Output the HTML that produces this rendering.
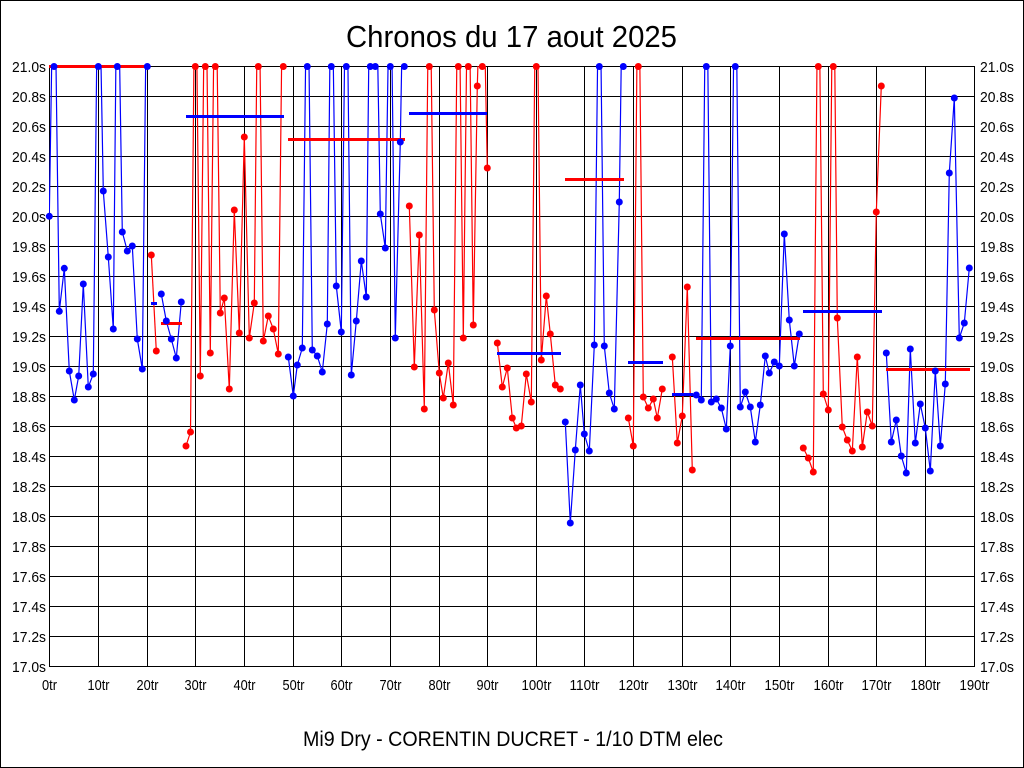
<!DOCTYPE html>
<html><head><meta charset="utf-8"><style>html,body{margin:0;padding:0;background:#fff;}svg{display:block;}</style></head>
<body>
<svg width="1024" height="768" viewBox="0 0 1024 768" xmlns="http://www.w3.org/2000/svg" font-family="'Liberation Sans', Arial, sans-serif">
<rect x="0" y="0" width="1024" height="768" fill="#fff"/>
<rect x="0.5" y="0.5" width="1023" height="767" fill="none" stroke="#000" stroke-width="1"/>
<defs><clipPath id="pc"><rect x="49" y="66" width="926" height="601"/></clipPath></defs>
<g stroke="#000" stroke-width="1" shape-rendering="crispEdges">
<path d="M49.5,66V666M98.5,66V666M147.5,66V666M195.5,66V666M244.5,66V666M293.5,66V666M341.5,66V666M390.5,66V666M439.5,66V666M487.5,66V666M536.5,66V666M584.5,66V666M633.5,66V666M682.5,66V666M730.5,66V666M779.5,66V666M828.5,66V666M876.5,66V666M925.5,66V666M974.5,66V666"/>
<path d="M49,66.5H975M49,96.5H975M49,126.5H975M49,156.5H975M49,186.5H975M49,216.5H975M49,246.5H975M49,276.5H975M49,306.5H975M49,336.5H975M49,366.5H975M49,396.5H975M49,426.5H975M49,456.5H975M49,486.5H975M49,516.5H975M49,546.5H975M49,576.5H975M49,606.5H975M49,636.5H975M49,666.5H975"/>
</g>
<g font-size="15" fill="#000" text-anchor="end">
<text x="46" y="72" textLength="34" lengthAdjust="spacingAndGlyphs">21.0s</text>
<text x="46" y="102" textLength="34" lengthAdjust="spacingAndGlyphs">20.8s</text>
<text x="46" y="132" textLength="34" lengthAdjust="spacingAndGlyphs">20.6s</text>
<text x="46" y="162" textLength="34" lengthAdjust="spacingAndGlyphs">20.4s</text>
<text x="46" y="192" textLength="34" lengthAdjust="spacingAndGlyphs">20.2s</text>
<text x="46" y="222" textLength="34" lengthAdjust="spacingAndGlyphs">20.0s</text>
<text x="46" y="252" textLength="34" lengthAdjust="spacingAndGlyphs">19.8s</text>
<text x="46" y="282" textLength="34" lengthAdjust="spacingAndGlyphs">19.6s</text>
<text x="46" y="312" textLength="34" lengthAdjust="spacingAndGlyphs">19.4s</text>
<text x="46" y="342" textLength="34" lengthAdjust="spacingAndGlyphs">19.2s</text>
<text x="46" y="372" textLength="34" lengthAdjust="spacingAndGlyphs">19.0s</text>
<text x="46" y="402" textLength="34" lengthAdjust="spacingAndGlyphs">18.8s</text>
<text x="46" y="432" textLength="34" lengthAdjust="spacingAndGlyphs">18.6s</text>
<text x="46" y="462" textLength="34" lengthAdjust="spacingAndGlyphs">18.4s</text>
<text x="46" y="492" textLength="34" lengthAdjust="spacingAndGlyphs">18.2s</text>
<text x="46" y="522" textLength="34" lengthAdjust="spacingAndGlyphs">18.0s</text>
<text x="46" y="552" textLength="34" lengthAdjust="spacingAndGlyphs">17.8s</text>
<text x="46" y="582" textLength="34" lengthAdjust="spacingAndGlyphs">17.6s</text>
<text x="46" y="612" textLength="34" lengthAdjust="spacingAndGlyphs">17.4s</text>
<text x="46" y="642" textLength="34" lengthAdjust="spacingAndGlyphs">17.2s</text>
<text x="46" y="672" textLength="34" lengthAdjust="spacingAndGlyphs">17.0s</text>
</g>
<g font-size="15" fill="#000" text-anchor="start">
<text x="980" y="72" textLength="34" lengthAdjust="spacingAndGlyphs">21.0s</text>
<text x="980" y="102" textLength="34" lengthAdjust="spacingAndGlyphs">20.8s</text>
<text x="980" y="132" textLength="34" lengthAdjust="spacingAndGlyphs">20.6s</text>
<text x="980" y="162" textLength="34" lengthAdjust="spacingAndGlyphs">20.4s</text>
<text x="980" y="192" textLength="34" lengthAdjust="spacingAndGlyphs">20.2s</text>
<text x="980" y="222" textLength="34" lengthAdjust="spacingAndGlyphs">20.0s</text>
<text x="980" y="252" textLength="34" lengthAdjust="spacingAndGlyphs">19.8s</text>
<text x="980" y="282" textLength="34" lengthAdjust="spacingAndGlyphs">19.6s</text>
<text x="980" y="312" textLength="34" lengthAdjust="spacingAndGlyphs">19.4s</text>
<text x="980" y="342" textLength="34" lengthAdjust="spacingAndGlyphs">19.2s</text>
<text x="980" y="372" textLength="34" lengthAdjust="spacingAndGlyphs">19.0s</text>
<text x="980" y="402" textLength="34" lengthAdjust="spacingAndGlyphs">18.8s</text>
<text x="980" y="432" textLength="34" lengthAdjust="spacingAndGlyphs">18.6s</text>
<text x="980" y="462" textLength="34" lengthAdjust="spacingAndGlyphs">18.4s</text>
<text x="980" y="492" textLength="34" lengthAdjust="spacingAndGlyphs">18.2s</text>
<text x="980" y="522" textLength="34" lengthAdjust="spacingAndGlyphs">18.0s</text>
<text x="980" y="552" textLength="34" lengthAdjust="spacingAndGlyphs">17.8s</text>
<text x="980" y="582" textLength="34" lengthAdjust="spacingAndGlyphs">17.6s</text>
<text x="980" y="612" textLength="34" lengthAdjust="spacingAndGlyphs">17.4s</text>
<text x="980" y="642" textLength="34" lengthAdjust="spacingAndGlyphs">17.2s</text>
<text x="980" y="672" textLength="34" lengthAdjust="spacingAndGlyphs">17.0s</text>
</g>
<g font-size="15" fill="#000" text-anchor="middle">
<text x="49.5" y="690" textLength="15" lengthAdjust="spacingAndGlyphs">0tr</text>
<text x="98.5" y="690" textLength="22" lengthAdjust="spacingAndGlyphs">10tr</text>
<text x="147.5" y="690" textLength="22" lengthAdjust="spacingAndGlyphs">20tr</text>
<text x="195.5" y="690" textLength="22" lengthAdjust="spacingAndGlyphs">30tr</text>
<text x="244.5" y="690" textLength="22" lengthAdjust="spacingAndGlyphs">40tr</text>
<text x="293.5" y="690" textLength="22" lengthAdjust="spacingAndGlyphs">50tr</text>
<text x="341.5" y="690" textLength="22" lengthAdjust="spacingAndGlyphs">60tr</text>
<text x="390.5" y="690" textLength="22" lengthAdjust="spacingAndGlyphs">70tr</text>
<text x="439.5" y="690" textLength="22" lengthAdjust="spacingAndGlyphs">80tr</text>
<text x="487.5" y="690" textLength="22" lengthAdjust="spacingAndGlyphs">90tr</text>
<text x="536.5" y="690" textLength="30" lengthAdjust="spacingAndGlyphs">100tr</text>
<text x="584.5" y="690" textLength="30" lengthAdjust="spacingAndGlyphs">110tr</text>
<text x="633.5" y="690" textLength="30" lengthAdjust="spacingAndGlyphs">120tr</text>
<text x="682.5" y="690" textLength="30" lengthAdjust="spacingAndGlyphs">130tr</text>
<text x="730.5" y="690" textLength="30" lengthAdjust="spacingAndGlyphs">140tr</text>
<text x="779.5" y="690" textLength="30" lengthAdjust="spacingAndGlyphs">150tr</text>
<text x="828.5" y="690" textLength="30" lengthAdjust="spacingAndGlyphs">160tr</text>
<text x="876.5" y="690" textLength="30" lengthAdjust="spacingAndGlyphs">170tr</text>
<text x="925.5" y="690" textLength="30" lengthAdjust="spacingAndGlyphs">180tr</text>
<text x="974.5" y="690" textLength="30" lengthAdjust="spacingAndGlyphs">190tr</text>
</g>
<text x="511.5" y="47" font-size="31" text-anchor="middle" textLength="331" lengthAdjust="spacingAndGlyphs" fill="#000">Chronos du 17 aout 2025</text>
<text x="513" y="746" font-size="21" text-anchor="middle" textLength="420" lengthAdjust="spacingAndGlyphs" fill="#000">Mi9 Dry - CORENTIN DUCRET - 1/10 DTM elec</text>

<g clip-path="url(#pc)" fill="none" stroke-width="1.2" stroke-linejoin="round">
<path stroke="#0000ff" d="M49.3,216.3L54,-84L59.3,311.3L64.3,268.3L69.3,371L74.3,400L78.7,376L83.3,284L88.3,387L93.3,374L98.3,-84L103.3,191L108.3,257L113.3,329L117.3,-84L122.3,232L127.3,251L132.3,246L137.3,339L142.3,369L147.3,-84"/>
<path stroke="#ff0000" d="M151.3,255L156.3,351"/>
<path stroke="#0000ff" d="M161.3,294L166.3,321L171.3,339L176.3,358L181.3,302"/>
<path stroke="#ff0000" d="M186,446L190.5,432L195.3,-84L200.3,376L205.3,-84L210.3,353L215.3,-84L220.3,313L224.3,298L229.3,389L234.3,210L239.3,333L244.3,137L249.3,338L254.3,303L258.3,-84L263.3,341L268.3,316L273.3,329L278.3,354L283.3,-84"/>
<path stroke="#0000ff" d="M288.3,357L293.3,396L297.3,365L302.3,348L307.3,-84L312.3,350L317.3,356L322.3,372L327.3,324L331.3,-84L336.3,286L341.3,332L346.3,-84L351.3,375L356.3,321L361.3,261L366.3,297L370.3,-84L375.3,-84L380.3,214L385.3,248L390.3,-84L395.3,338L400.3,142L404.3,-84"/>
<path stroke="#ff0000" d="M409.3,206L414.3,367L419.3,235L424.3,409L429.3,-84L434.3,310L439.3,373L443.3,398L448.3,363L453.3,405L458.3,-84L463.3,338L468.3,-84L473.3,325L477.3,86L482.3,-84L487.3,168"/>
<path stroke="#ff0000" d="M497.3,343L502.3,387L507.3,368L512.3,418L516.3,428L521.3,426L526.3,374L531.3,402L536.3,-84L541.3,360L546.3,296L550.3,334L555.3,385L560.3,389"/>
<path stroke="#0000ff" d="M565.3,422L570.3,523L575.3,450L580.3,385L584.3,434L589.3,451L594.3,345L599.3,-84L604.3,346L609.3,393L614.3,409L619.3,202L623.3,-84"/>
<path stroke="#ff0000" d="M628.3,418L633.3,446L638.3,-84L643.3,397L648.3,408L653.3,399L657.3,418L662.3,389"/>
<path stroke="#ff0000" d="M672.3,357L677.3,443L682.3,416L687.3,287L692.3,470"/>
<path stroke="#0000ff" d="M696.3,395L701.3,400L706.3,-84L711.3,402L716.3,399L721.3,408L726.3,429L730.3,346L735.3,-84L740.3,407L745.3,392L750.3,407L755.3,442L760.3,405L765.3,356L769.3,373L774.3,362L779.3,366L784.3,234L789.3,320L794.3,366L799.3,334"/>
<path stroke="#ff0000" d="M803.3,448L808.3,458L813.3,472L818.3,-84L823.3,394L828.3,410L833.3,-84L837.3,318L842.3,427L847.3,440L852.3,451L857.3,357L862.3,447L867.3,412L872.3,426L876.3,212L881.3,86"/>
<path stroke="#0000ff" d="M886.3,353L891.3,442L896.3,420L901.3,456L906.3,473L910.3,349L915.3,443L920.3,404L925.3,428L930.3,471L935.3,371L940.3,446L945.3,384L949.3,173L954.3,98L959.3,338L964.3,323L969.3,268"/>
</g>

<g stroke-width="3" fill="none">
<path stroke="#ff0000" d="M49,66.5H147.5"/>
<path stroke="#0000ff" d="M151,303.5H157"/>
<path stroke="#ff0000" d="M161,323.5H182"/>
<path stroke="#0000ff" d="M186,116.5H284"/>
<path stroke="#ff0000" d="M288,139.5H405"/>
<path stroke="#0000ff" d="M409,113.5H487"/>
<path stroke="#0000ff" d="M497,353.5H561"/>
<path stroke="#ff0000" d="M565,179.5H624"/>
<path stroke="#0000ff" d="M628,362.5H663"/>
<path stroke="#0000ff" d="M672,394.5H693"/>
<path stroke="#ff0000" d="M696,338.5H800"/>
<path stroke="#0000ff" d="M803,311.5H882"/>
<path stroke="#ff0000" d="M886,369.5H970"/>
</g>

<g fill="#0000ff">
<circle cx="49.3" cy="216.3" r="3.5"/><circle cx="54" cy="66.5" r="3.5"/><circle cx="59.3" cy="311.3" r="3.5"/><circle cx="64.3" cy="268.3" r="3.5"/><circle cx="69.3" cy="371" r="3.5"/><circle cx="74.3" cy="400" r="3.5"/><circle cx="78.7" cy="376" r="3.5"/><circle cx="83.3" cy="284" r="3.5"/><circle cx="88.3" cy="387" r="3.5"/><circle cx="93.3" cy="374" r="3.5"/><circle cx="98.3" cy="66.5" r="3.5"/><circle cx="103.3" cy="191" r="3.5"/><circle cx="108.3" cy="257" r="3.5"/><circle cx="113.3" cy="329" r="3.5"/><circle cx="117.3" cy="66.5" r="3.5"/><circle cx="122.3" cy="232" r="3.5"/><circle cx="127.3" cy="251" r="3.5"/><circle cx="132.3" cy="246" r="3.5"/><circle cx="137.3" cy="339" r="3.5"/><circle cx="142.3" cy="369" r="3.5"/><circle cx="147.3" cy="66.5" r="3.5"/>
<circle cx="161.3" cy="294" r="3.5"/><circle cx="166.3" cy="321" r="3.5"/><circle cx="171.3" cy="339" r="3.5"/><circle cx="176.3" cy="358" r="3.5"/><circle cx="181.3" cy="302" r="3.5"/>
<circle cx="288.3" cy="357" r="3.5"/><circle cx="293.3" cy="396" r="3.5"/><circle cx="297.3" cy="365" r="3.5"/><circle cx="302.3" cy="348" r="3.5"/><circle cx="307.3" cy="66.5" r="3.5"/><circle cx="312.3" cy="350" r="3.5"/><circle cx="317.3" cy="356" r="3.5"/><circle cx="322.3" cy="372" r="3.5"/><circle cx="327.3" cy="324" r="3.5"/><circle cx="331.3" cy="66.5" r="3.5"/><circle cx="336.3" cy="286" r="3.5"/><circle cx="341.3" cy="332" r="3.5"/><circle cx="346.3" cy="66.5" r="3.5"/><circle cx="351.3" cy="375" r="3.5"/><circle cx="356.3" cy="321" r="3.5"/><circle cx="361.3" cy="261" r="3.5"/><circle cx="366.3" cy="297" r="3.5"/><circle cx="370.3" cy="66.5" r="3.5"/><circle cx="375.3" cy="66.5" r="3.5"/><circle cx="380.3" cy="214" r="3.5"/><circle cx="385.3" cy="248" r="3.5"/><circle cx="390.3" cy="66.5" r="3.5"/><circle cx="395.3" cy="338" r="3.5"/><circle cx="400.3" cy="142" r="3.5"/><circle cx="404.3" cy="66.5" r="3.5"/>
<circle cx="565.3" cy="422" r="3.5"/><circle cx="570.3" cy="523" r="3.5"/><circle cx="575.3" cy="450" r="3.5"/><circle cx="580.3" cy="385" r="3.5"/><circle cx="584.3" cy="434" r="3.5"/><circle cx="589.3" cy="451" r="3.5"/><circle cx="594.3" cy="345" r="3.5"/><circle cx="599.3" cy="66.5" r="3.5"/><circle cx="604.3" cy="346" r="3.5"/><circle cx="609.3" cy="393" r="3.5"/><circle cx="614.3" cy="409" r="3.5"/><circle cx="619.3" cy="202" r="3.5"/><circle cx="623.3" cy="66.5" r="3.5"/>
<circle cx="696.3" cy="395" r="3.5"/><circle cx="701.3" cy="400" r="3.5"/><circle cx="706.3" cy="66.5" r="3.5"/><circle cx="711.3" cy="402" r="3.5"/><circle cx="716.3" cy="399" r="3.5"/><circle cx="721.3" cy="408" r="3.5"/><circle cx="726.3" cy="429" r="3.5"/><circle cx="730.3" cy="346" r="3.5"/><circle cx="735.3" cy="66.5" r="3.5"/><circle cx="740.3" cy="407" r="3.5"/><circle cx="745.3" cy="392" r="3.5"/><circle cx="750.3" cy="407" r="3.5"/><circle cx="755.3" cy="442" r="3.5"/><circle cx="760.3" cy="405" r="3.5"/><circle cx="765.3" cy="356" r="3.5"/><circle cx="769.3" cy="373" r="3.5"/><circle cx="774.3" cy="362" r="3.5"/><circle cx="779.3" cy="366" r="3.5"/><circle cx="784.3" cy="234" r="3.5"/><circle cx="789.3" cy="320" r="3.5"/><circle cx="794.3" cy="366" r="3.5"/><circle cx="799.3" cy="334" r="3.5"/>
<circle cx="886.3" cy="353" r="3.5"/><circle cx="891.3" cy="442" r="3.5"/><circle cx="896.3" cy="420" r="3.5"/><circle cx="901.3" cy="456" r="3.5"/><circle cx="906.3" cy="473" r="3.5"/><circle cx="910.3" cy="349" r="3.5"/><circle cx="915.3" cy="443" r="3.5"/><circle cx="920.3" cy="404" r="3.5"/><circle cx="925.3" cy="428" r="3.5"/><circle cx="930.3" cy="471" r="3.5"/><circle cx="935.3" cy="371" r="3.5"/><circle cx="940.3" cy="446" r="3.5"/><circle cx="945.3" cy="384" r="3.5"/><circle cx="949.3" cy="173" r="3.5"/><circle cx="954.3" cy="98" r="3.5"/><circle cx="959.3" cy="338" r="3.5"/><circle cx="964.3" cy="323" r="3.5"/><circle cx="969.3" cy="268" r="3.5"/>
</g>
<g fill="#ff0000">
<circle cx="151.3" cy="255" r="3.5"/><circle cx="156.3" cy="351" r="3.5"/>
<circle cx="186" cy="446" r="3.5"/><circle cx="190.5" cy="432" r="3.5"/><circle cx="195.3" cy="66.5" r="3.5"/><circle cx="200.3" cy="376" r="3.5"/><circle cx="205.3" cy="66.5" r="3.5"/><circle cx="210.3" cy="353" r="3.5"/><circle cx="215.3" cy="66.5" r="3.5"/><circle cx="220.3" cy="313" r="3.5"/><circle cx="224.3" cy="298" r="3.5"/><circle cx="229.3" cy="389" r="3.5"/><circle cx="234.3" cy="210" r="3.5"/><circle cx="239.3" cy="333" r="3.5"/><circle cx="244.3" cy="137" r="3.5"/><circle cx="249.3" cy="338" r="3.5"/><circle cx="254.3" cy="303" r="3.5"/><circle cx="258.3" cy="66.5" r="3.5"/><circle cx="263.3" cy="341" r="3.5"/><circle cx="268.3" cy="316" r="3.5"/><circle cx="273.3" cy="329" r="3.5"/><circle cx="278.3" cy="354" r="3.5"/><circle cx="283.3" cy="66.5" r="3.5"/>
<circle cx="409.3" cy="206" r="3.5"/><circle cx="414.3" cy="367" r="3.5"/><circle cx="419.3" cy="235" r="3.5"/><circle cx="424.3" cy="409" r="3.5"/><circle cx="429.3" cy="66.5" r="3.5"/><circle cx="434.3" cy="310" r="3.5"/><circle cx="439.3" cy="373" r="3.5"/><circle cx="443.3" cy="398" r="3.5"/><circle cx="448.3" cy="363" r="3.5"/><circle cx="453.3" cy="405" r="3.5"/><circle cx="458.3" cy="66.5" r="3.5"/><circle cx="463.3" cy="338" r="3.5"/><circle cx="468.3" cy="66.5" r="3.5"/><circle cx="473.3" cy="325" r="3.5"/><circle cx="477.3" cy="86" r="3.5"/><circle cx="482.3" cy="66.5" r="3.5"/><circle cx="487.3" cy="168" r="3.5"/>
<circle cx="497.3" cy="343" r="3.5"/><circle cx="502.3" cy="387" r="3.5"/><circle cx="507.3" cy="368" r="3.5"/><circle cx="512.3" cy="418" r="3.5"/><circle cx="516.3" cy="428" r="3.5"/><circle cx="521.3" cy="426" r="3.5"/><circle cx="526.3" cy="374" r="3.5"/><circle cx="531.3" cy="402" r="3.5"/><circle cx="536.3" cy="66.5" r="3.5"/><circle cx="541.3" cy="360" r="3.5"/><circle cx="546.3" cy="296" r="3.5"/><circle cx="550.3" cy="334" r="3.5"/><circle cx="555.3" cy="385" r="3.5"/><circle cx="560.3" cy="389" r="3.5"/>
<circle cx="628.3" cy="418" r="3.5"/><circle cx="633.3" cy="446" r="3.5"/><circle cx="638.3" cy="66.5" r="3.5"/><circle cx="643.3" cy="397" r="3.5"/><circle cx="648.3" cy="408" r="3.5"/><circle cx="653.3" cy="399" r="3.5"/><circle cx="657.3" cy="418" r="3.5"/><circle cx="662.3" cy="389" r="3.5"/>
<circle cx="672.3" cy="357" r="3.5"/><circle cx="677.3" cy="443" r="3.5"/><circle cx="682.3" cy="416" r="3.5"/><circle cx="687.3" cy="287" r="3.5"/><circle cx="692.3" cy="470" r="3.5"/>
<circle cx="803.3" cy="448" r="3.5"/><circle cx="808.3" cy="458" r="3.5"/><circle cx="813.3" cy="472" r="3.5"/><circle cx="818.3" cy="66.5" r="3.5"/><circle cx="823.3" cy="394" r="3.5"/><circle cx="828.3" cy="410" r="3.5"/><circle cx="833.3" cy="66.5" r="3.5"/><circle cx="837.3" cy="318" r="3.5"/><circle cx="842.3" cy="427" r="3.5"/><circle cx="847.3" cy="440" r="3.5"/><circle cx="852.3" cy="451" r="3.5"/><circle cx="857.3" cy="357" r="3.5"/><circle cx="862.3" cy="447" r="3.5"/><circle cx="867.3" cy="412" r="3.5"/><circle cx="872.3" cy="426" r="3.5"/><circle cx="876.3" cy="212" r="3.5"/><circle cx="881.3" cy="86" r="3.5"/>
</g>
</svg>
</body></html>
